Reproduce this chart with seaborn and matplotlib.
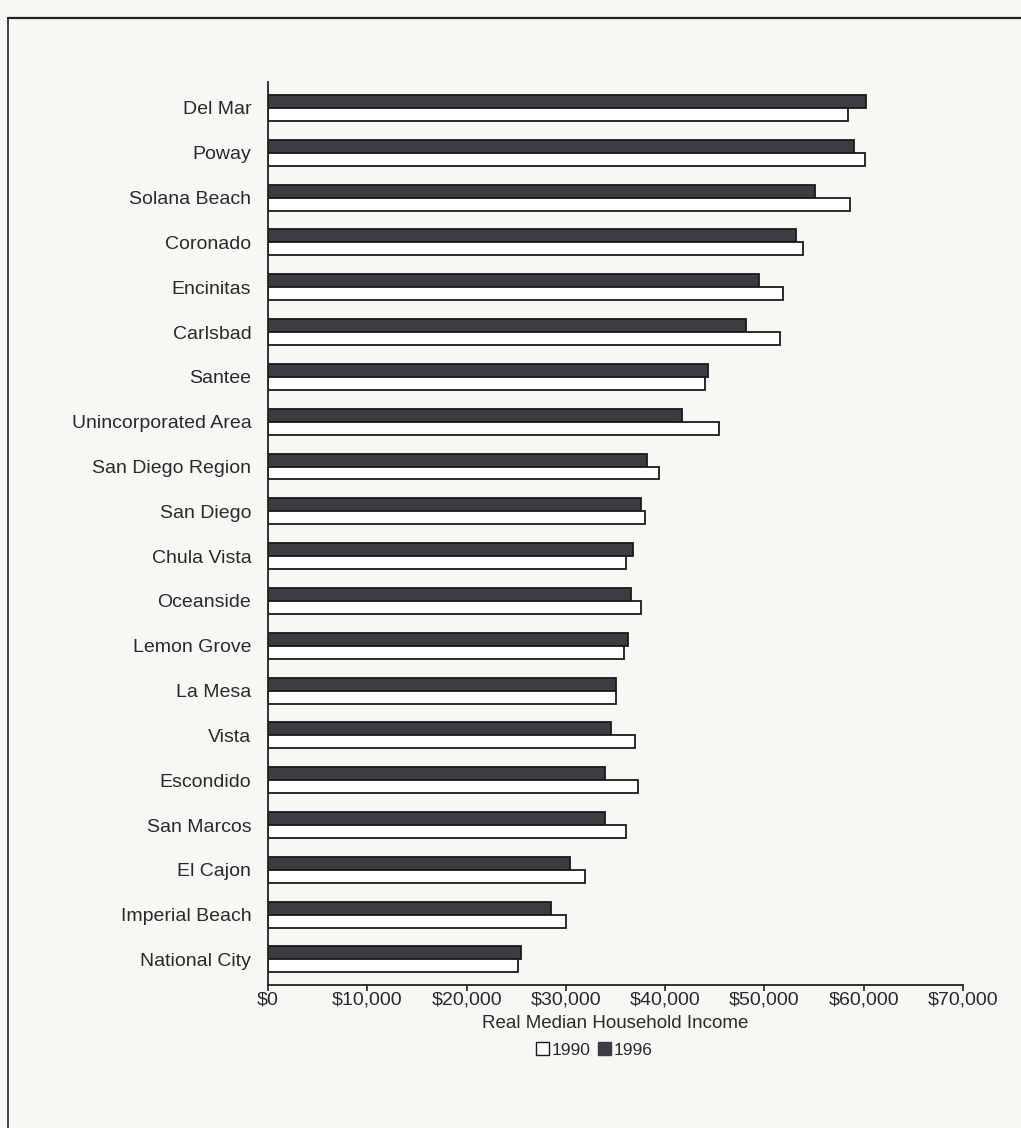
import matplotlib
matplotlib.use("Agg")
import matplotlib.pyplot as plt
import seaborn as sns
import pandas as pd
from matplotlib.patches import Patch
from matplotlib.lines import Line2D
from matplotlib.ticker import FuncFormatter

places = ["Del Mar", "Poway", "Solana Beach", "Coronado", "Encinitas", "Carlsbad",
          "Santee", "Unincorporated Area", "San Diego Region", "San Diego",
          "Chula Vista", "Oceanside", "Lemon Grove", "La Mesa", "Vista",
          "Escondido", "San Marcos", "El Cajon", "Imperial Beach", "National City"]
income_1996 = [60200, 59000, 55100, 53200, 49500, 48100, 44300, 41700, 38200, 37600,
               36800, 36600, 36300, 35000, 34500, 33900, 33900, 30400, 28500, 25500]
income_1990 = [58400, 60100, 58600, 53900, 51900, 51600, 44000, 45400, 39400, 38000,
               36100, 37600, 35900, 35100, 37000, 37300, 36100, 31900, 30000, 25200]
years = ["1996", "1990"]
xticks = [0, 10000, 20000, 30000, 40000, 50000, 60000, 70000]

df = pd.DataFrame({
    "place": places * 2,
    "year": ["1996"] * len(places) + ["1990"] * len(places),
    "income": income_1996 + income_1990,
})

sns.set_theme(style="white")
plt.rcParams["font.family"] = ["Liberation Sans", "DejaVu Sans"]

bg = "#f7f7f4"
dark = "#3a3d43"
txt = "#2a2a2a"
fig = plt.figure(figsize=(10.21, 11.28), dpi=100, facecolor=bg)
ax = fig.add_axes([268 / 1021, 1 - 985 / 1128, (963 - 268) / 1021, (985 - 82) / 1128])
ax.set_facecolor(bg)

sns.barplot(data=df, y="place", x="income", hue="year", hue_order=years,
            order=places, orient="h", palette={"1996": dark, "1990": "white"},
            width=0.58, edgecolor="#1a1a1a", linewidth=1.3, ax=ax, legend=False)

ax.set_xlim(0, 70000)
ax.set_ylim(19.57, -0.58)
ax.set_xticks(xticks)
ax.xaxis.set_major_formatter(FuncFormatter(lambda v, p: f"${v:,.0f}"))
ax.set_xlabel("Real Median Household Income", fontsize=13.5, color=txt, labelpad=5)
ax.set_ylabel("")
for s in ["top", "right"]:
    ax.spines[s].set_visible(False)
for s in ["left", "bottom"]:
    ax.spines[s].set_color("#222222")
    ax.spines[s].set_linewidth(1.3)
ax.tick_params(axis="x", direction="out", length=4, width=1.2, color="#222222",
               labelsize=14, labelcolor=txt, pad=0.5, bottom=True)
ax.tick_params(axis="y", length=0, labelsize=14, labelcolor=txt, pad=12)

handles = [Patch(facecolor="white", edgecolor="#1a1a1a", linewidth=1.0),
           Patch(facecolor=dark, edgecolor=dark)]
fig.legend(handles, ["1990", "1996"], loc="center", bbox_to_anchor=(0.582, 0.069),
           ncol=2, frameon=False, fontsize=12.5, handlelength=0.75, handleheight=0.75,
           handletextpad=0.15, columnspacing=0.4, labelcolor=txt)

# outer frame (top and left edges)
fig.add_artist(Line2D([8 / 1021, 1.0], [1 - 18 / 1128] * 2, transform=fig.transFigure,
                      color="#222222", linewidth=1.6))
fig.add_artist(Line2D([8 / 1021] * 2, [0.0, 1 - 18 / 1128], transform=fig.transFigure,
                      color="#222222", linewidth=1.2))

fig.savefig("out.png", dpi=100, facecolor=bg)
